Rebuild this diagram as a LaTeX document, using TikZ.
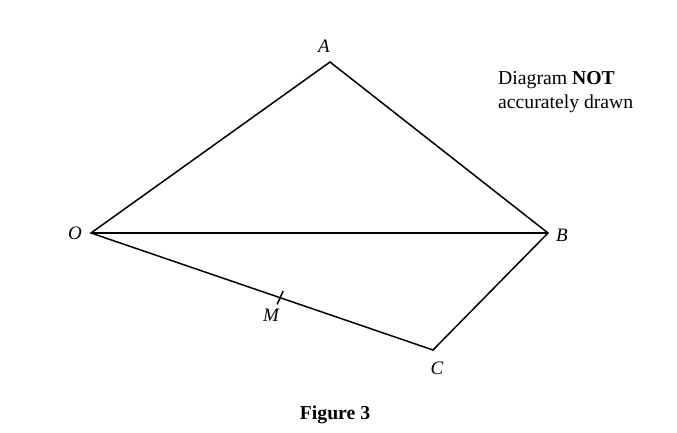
\documentclass[tikz,border=0pt]{standalone}
\usepackage{fontspec}
\setmainfont{Liberation Serif}
\usetikzlibrary{calc}
\begin{document}
\begin{tikzpicture}[x=1pt,y=-1pt,
  edge/.style={line width=1.5pt,line join=miter},
  ptlabel/.style={font=\fontsize{19}{23}\selectfont\itshape,inner sep=0pt},
  note/.style={font=\fontsize{19.7}{24}\selectfont,inner sep=0pt,align=left}]
\useasboundingbox (0,0) rectangle (677,432);
\coordinate (O) at (91,233);
\coordinate (A) at (330,62);
\coordinate (B) at (548,233);
\coordinate (C) at (433,350);
\coordinate (M) at ($(O)!0.553!(C)$);
\draw[edge] (O) -- (A) -- (B) -- (C) -- cycle;
\draw[edge] (O) -- (B);
\draw[edge] ($(M)+(-3,6.7)$) -- ($(M)+(3,-6.7)$);
\node[ptlabel] (lA) at (324,46) {A};
\node[ptlabel] (lO) at (75,233) {O};
\node[ptlabel] (lB) at (562,235) {B};
\node[ptlabel] (lC) at (437,368) {C};
\node[ptlabel] (lM) at (271,315) {M};
\node[note,anchor=west] (nt) at (498,92) {Diagram \textbf{NOT}\\accurately drawn};
\node[font=\fontsize{19.7}{24}\selectfont\bfseries,inner sep=0pt] (fig) at (335,415) {Figure 3};
\end{tikzpicture}
\end{document}
